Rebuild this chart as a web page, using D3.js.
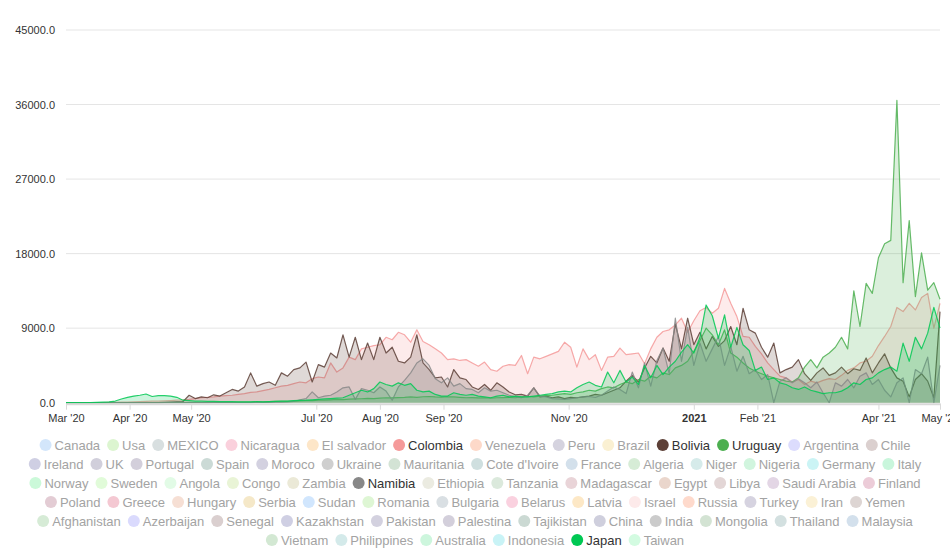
<!DOCTYPE html>
<html><head><meta charset="utf-8">
<script src="https://cdn.jsdelivr.net/npm/d3@7"></script>
<style>
body{margin:0;background:#fff;}
svg{display:block;font-family:"Liberation Sans",Arial,Helvetica,sans-serif;}
</style>
</head><body>
<svg id="chart" width="950" height="550"></svg>
<script>
// ---------------- DATA (daily cases, one value every 3 days from 1 Mar 2020) ----------------
const startDate = "2020-03-01";
const stepDays = 3;

const colombia = [
0,0,0,0,0,10,20,30,50,60,
80,100,120,150,180,200,230,260,300,330,
400,500,600,650,700,800,850,900,1000,1100,
1250,1300,1450,1600,1800,2000,2100,2300,2500,2400,
2900,3100,3000,4800,3700,4200,5500,5200,6500,6700,
6900,7000,7900,7600,8500,8200,7300,8800,7400,7000,
6500,6000,5200,5300,5100,5200,4800,4400,4900,4000,
3800,4400,4600,4500,5700,3500,5500,5300,5600,5900,
6200,7300,6700,4300,6500,5200,5800,3900,5500,5600,
6600,5800,5900,6000,4700,6500,7900,8600,8800,9400,
10200,8500,9900,11100,11500,10800,11400,13800,12000,10400,
8000,7900,6800,5900,4800,4000,3200,3000,2500,2800,
2200,2600,2400,2700,2900,2800,3300,3900,4200,4800,
5000,5600,6900,8000,9200,11500,11000,12000,11200,12700,
13200,9000,12000];

const bolivia = [
0,0,0,0,0,0,0,0,0,0,
0,0,0,0,0,0,50,80,100,120,
900,500,700,600,950,800,1200,1600,1400,1900,
3600,2000,2300,2500,2100,3600,3200,4000,4200,4900,
2500,4600,4300,6000,5400,8200,5500,7900,5200,7200,
5200,7900,6000,6700,5000,4800,5500,8200,4800,4000,
3000,3100,1900,4000,3000,2800,1900,1600,2200,1500,
2400,1900,1300,950,1000,800,1800,700,800,600,
700,500,650,600,700,800,1000,900,1200,1500,
1800,2600,3300,2500,4200,5600,4800,6600,5000,9500,
6500,10200,7000,8500,6500,8000,6800,7500,9200,7000,
11400,8800,8400,6700,5500,7200,3600,4000,4300,5200,
3500,2700,3600,4200,3300,3600,4300,3500,4100,3900,
5400,3600,4800,5900,4200,3000,2600,700,2800,3500,
2600,600,11000];

const uruguay = [
0,0,0,0,5,10,15,20,20,15,
10,10,10,5,5,5,10,10,10,10,
10,15,20,20,30,30,40,50,60,60,
80,100,90,120,150,150,170,200,220,250,
250,300,300,350,400,380,420,450,480,520,
500,550,600,580,620,650,700,650,720,750,
700,680,720,700,650,600,620,580,600,550,
600,620,650,600,700,750,700,800,850,900,
1000,1100,1000,1200,1300,1500,1400,1700,1900,1800,
2200,2500,2300,2800,2600,3200,3000,3600,3400,4200,
4500,5000,6200,7500,9000,8200,7000,8800,6000,5500,
4800,4200,3800,3500,3200,3000,2800,2600,2500,3000,
4300,5200,4200,5500,6000,6700,7900,6500,13500,9200,
14400,13200,17500,19200,19600,36500,14500,22000,12800,18100,
13600,14500,12500];

const namibia = [
0,0,0,0,0,0,0,0,0,0,
0,0,0,0,0,0,0,0,0,0,
0,0,0,0,0,0,0,0,0,0,
20,30,40,50,60,80,100,150,360,500,
1300,600,800,900,1300,1800,1900,400,1700,1500,
1200,1900,1400,300,1900,2700,3600,4800,5300,4500,
2900,2400,3000,2000,2300,1700,1600,1200,1800,1400,
1500,1200,900,700,600,900,1800,800,700,500,
450,400,500,600,700,750,650,900,1400,1900,
1600,1100,3700,1800,4800,2000,5100,6600,3500,10200,
5000,9100,4500,7200,5000,6500,8000,4500,6800,3800,
5600,3500,4000,2800,3400,0,2600,3000,2400,2900,
2400,1800,2500,1200,0,2400,2000,2800,1800,3200,
3600,2200,2800,1500,700,2400,3000,0,4000,3500,
5500,0,4500];

const japan = [
0,0,0,0,10,30,60,100,200,450,
650,800,900,1050,750,850,850,800,650,300,
250,200,180,150,150,130,120,120,100,100,
110,120,100,120,150,180,200,250,280,300,
350,400,450,500,550,600,900,1200,1500,1300,
1700,2500,2200,2000,2400,2100,2300,1500,1300,1400,
1000,800,800,1200,1000,900,1000,800,700,600,
800,900,700,800,700,700,800,900,1000,1100,
1300,1400,1300,1800,2200,2500,2100,1900,3700,2400,
3900,2500,3100,2200,4500,3000,4500,3400,4300,5000,
6100,7000,6000,7900,11800,10500,7800,10600,6700,9100,
7000,6300,3900,4300,2800,3000,2400,2200,1800,1600,
1900,1500,1300,1100,1200,1200,1400,1800,2400,2200,
2800,3000,3600,4000,4300,3800,7200,5000,7900,6500,
8400,11500,9000];

// series drawn in the chart (legend order)
const seriesNames = ["Colombia", "Bolivia", "Uruguay", "Namibia", "Japan"];
const seriesValues = [colombia, bolivia, uruguay, namibia, japan];

// axis ticks
const yTickValues = [0, 9000, 18000, 27000, 36000, 45000];
const xTickDates = ["2020-03-01","2020-04-01","2020-05-01","2020-07-01","2020-08-01","2020-09-01","2020-11-01","2021-01-01","2021-02-01","2021-04-01","2021-05-01"];
const xTickLabels = ["Mar '20","Apr '20","May '20","Jul '20","Aug '20","Sep '20","Nov '20","2021","Feb '21","Apr '21","May '21"];

// legend
const legendNames = ["Canada","Usa","MEXICO","Nicaragua","El salvador","Colombia","Venezuela","Peru","Brazil","Bolivia","Uruguay","Argentina","Chile",
"Ireland","UK","Portugal","Spain","Moroco","Ukraine","Mauritania","Cote d'Ivoire","France","Algeria","Niger","Nigeria","Germany","Italy",
"Norway","Sweden","Angola","Congo","Zambia","Namibia","Ethiopia","Tanzania","Madagascar","Egypt","Libya","Saudi Arabia","Finland",
"Poland","Greece","Hungary","Serbia","Sudan","Romania","Bulgaria","Belarus","Latvia","Israel","Russia","Turkey","Iran","Yemen",
"Afghanistan","Azerbaijan","Senegal","Kazakhstan","Pakistan","Palestina","Tajikistan","China","India","Mongolia","Thailand","Malaysia",
"Vietnam","Philippines","Australia","Indonesia","Japan","Taiwan"];
const legendColors = ["#d3e6fb","#dcf5d0","#d8dfe0","#fad0dc","#fde6c8","#f59a9a","#fdd9c9","#d5d3df","#faf0d2","#5d4037","#4caf50","#dcdcfd","#dbd0cf",
"#cfcfe3","#d1cfdb","#d3cfdb","#cbdad6","#d3d1e0","#cfcfcf","#d3e3d5","#cfdfdf","#d3e0eb","#d6ecd6","#d6ebea","#d1f5de","#cbf4f5","#c9f6dc",
"#cbf9d9","#e1fbd9","#e2fbe6","#e9f4d6","#ebe9d7","#888888","#ebebe1","#dbe9dc","#e9d4d8","#ead6cc","#e3d6d6","#e3d6e5","#ecccd8",
"#e3ccd4","#f4c8d2","#f6dfd4","#f5e8c8","#d1e6fd","#def6d4","#d9dfe3","#fad1df","#fde8c6","#fdeaea","#fedacc","#d6d3e0","#fbf1d6","#ddd5d3",
"#d6ebd6","#dadafd","#dacfcf","#cfcfe3","#d3d1df","#d3cfdb","#cbd9d3","#cfcfdd","#cbcbcb","#d3e3d3","#d3e0e0","#d3e0ec",
"#d3e8d3","#d4eaea","#cdf6dd","#c9f3f6","#00c853","#d3fbe1"];
const seriesColors = {"Colombia":"#f59a9a","Bolivia":"#5d4037","Uruguay":"#4caf50","Namibia":"#888888","Japan":"#00c853"};

// ---------------- DRAW ----------------
const svg = d3.select("#chart");
const parse = d3.timeParse("%Y-%m-%d");
const t0 = parse(startDate);
const dates = colombia.map((_, i) => d3.timeDay.offset(t0, i * stepDays));

const plot = {left: 66, right: 940, top: 30, bottom: 402.7};
const x = d3.scaleTime().domain([parse("2020-03-01"), parse("2021-05-01")]).range([plot.left, plot.right]);
const y = d3.scaleLinear().domain([0, 45000]).range([plot.bottom, plot.top]);

// grid
svg.append("g").selectAll("line").data(yTickValues.filter(v => v > 0)).join("line")
  .attr("x1", plot.left).attr("x2", plot.right)
  .attr("y1", d => y(d)).attr("y2", d => y(d))
  .attr("stroke", "#e5e5e5").attr("stroke-width", 1);

// y labels
const yAxis = d3.axisLeft(y).tickValues(yTickValues).tickFormat(d3.format(".1f")).tickSize(0).tickPadding(11);
const gy = svg.append("g").attr("transform", `translate(${plot.left},0)`).call(yAxis);
gy.select(".domain").remove();
gy.selectAll("text").attr("fill", "#333").style("font-size", "11px");

// clip
svg.append("clipPath").attr("id", "clip").append("rect")
  .attr("x", plot.left).attr("y", 0).attr("width", plot.right - plot.left + 1).attr("height", plot.bottom + 1);

const area = d3.area().x((d, i) => x(dates[i])).y0(y(0)).y1(d => y(d));
const line = d3.line().x((d, i) => x(dates[i])).y(d => y(d));

const gs = svg.append("g").attr("clip-path", "url(#clip)");
seriesNames.forEach((name, k) => {
  const vals = seriesValues[k];
  const c = seriesColors[name];
  gs.append("path").datum(vals).attr("d", area)
    .attr("fill", c).attr("fill-opacity", 0.2);
  gs.append("path").datum(vals).attr("d", line)
    .attr("fill", "none").attr("stroke", c).attr("stroke-width", 1.2)
    .attr("stroke-opacity", 0.85).attr("stroke-linejoin", "round");
});

// x axis
const xAxis = d3.axisBottom(x).tickValues(xTickDates.map(parse))
  .tickFormat((d, i) => xTickLabels[i]).tickSize(6).tickPadding(5).tickSizeOuter(0);
const gx = svg.append("g").attr("transform", `translate(0,${plot.bottom + 1})`).call(xAxis);
gx.select(".domain").attr("stroke", "#d9d9d9").attr("stroke-width", 2);
gx.selectAll(".tick line").attr("stroke", "#d9d9d9");
gx.selectAll("text").attr("fill", "#333").style("font-size", "11px")
  .style("font-weight", (d, i) => xTickLabels[i] === "2021" ? "bold" : "normal");

// legend
const fontSize = 13, r = 6, textGap = 3, itemGap = 7, rowH = 19, maxW = 910, legendTop = 445;
const lg = svg.append("g");
const items = legendNames.map((name, i) => {
  const g = lg.append("g");
  const active = seriesNames.includes(name);
  g.append("circle").attr("cx", r).attr("cy", 0).attr("r", r).attr("fill", legendColors[i]);
  const t = g.append("text").attr("x", 2 * r + textGap).attr("y", 0).attr("dy", "0.35em")
    .style("font-size", fontSize + "px").attr("fill", active ? "#333" : "#a3a3a3").text(name);
  const w = 2 * r + textGap + t.node().getComputedTextLength();
  return {g, w};
});
const rows = [];
let cur = [], curW = 0;
items.forEach(it => {
  const add = (cur.length ? itemGap : 0) + it.w;
  if (cur.length && curW + add > maxW) { rows.push({items: cur, w: curW}); cur = []; curW = 0; }
  curW += (cur.length ? itemGap : 0) + it.w;
  cur.push(it);
});
if (cur.length) rows.push({items: cur, w: curW});
rows.forEach((row, ri) => {
  let xx = 475 - row.w / 2;
  row.items.forEach(it => {
    it.g.attr("transform", `translate(${xx},${legendTop + ri * rowH})`);
    xx += it.w + itemGap;
  });
});
</script>
</body></html>
